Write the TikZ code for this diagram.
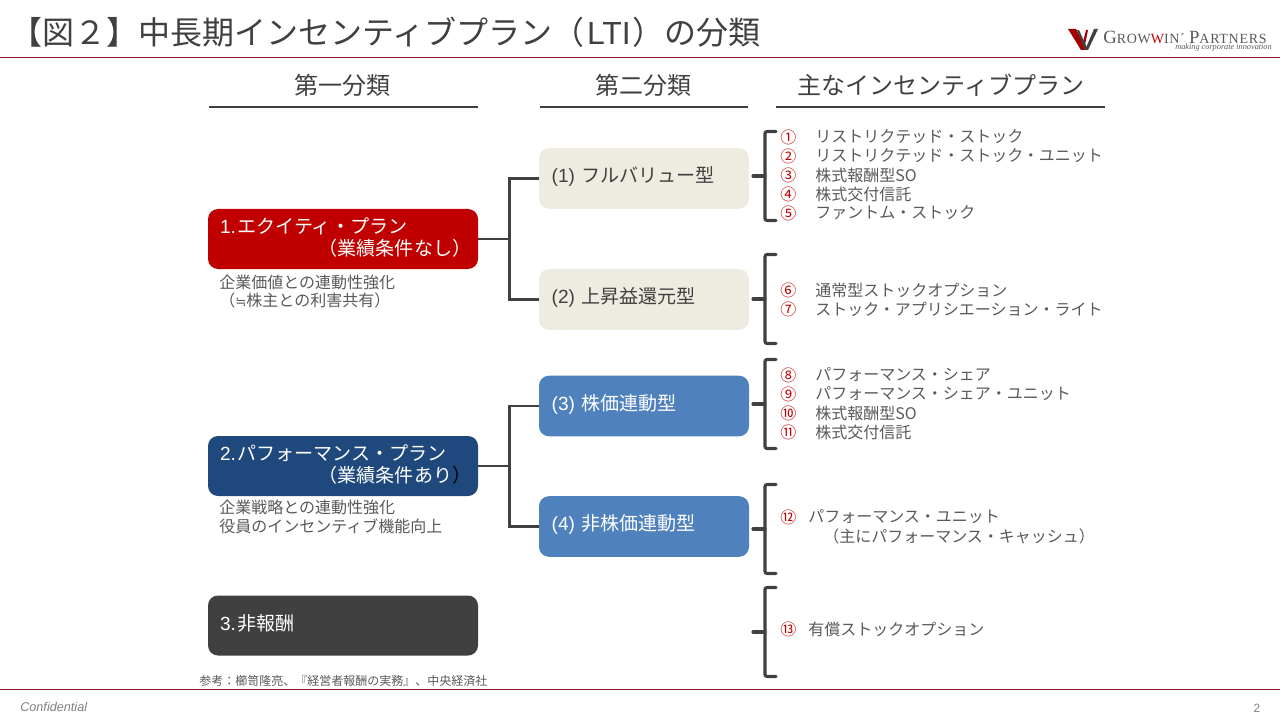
\documentclass[tikz,border=0pt]{standalone}
\usepackage{fontspec}
\setmainfont{Noto Sans CJK JP}
\newfontfamily\logofont{Liberation Serif}
\newfontfamily\latinfont{Liberation Sans}
\newfontfamily\symfont{DejaVu Sans}
\definecolor{DarkText}{HTML}{404040}
\definecolor{SoftText}{HTML}{595959}
\definecolor{RuleRed}{HTML}{8E1C1C}
\definecolor{EquityRed}{HTML}{C00000}
\definecolor{PerfNavy}{HTML}{1F497D}
\definecolor{StockBlue}{HTML}{4F81BD}
\definecolor{PaleBG}{HTML}{EEECE1}
\definecolor{NumRed}{HTML}{C00000}
\usetikzlibrary{calc,positioning}
\newcommand{\boxpad}{\endgraf\vspace*{3pt}}

\begin{document}
\begin{tikzpicture}[
  x=0.75pt,y=-0.75pt,
  planbox/.style={
    rounded corners=7.5pt,
    minimum height=45pt,inner xsep=9pt,inner ysep=0pt,
    text width=184.5pt,align=left,
    font=\fontsize{14.3}{16.5}\selectfont,text=white,
    execute at end node=\boxpad
  },
  typebox/.style={
    rounded corners=7.5pt,
    minimum height=45.5pt,inner xsep=9.5pt,inner ysep=0pt,
    text width=138.5pt,align=left,
    font=\fontsize{14.3}{16.5}\selectfont,text=white,
    execute at end node=\boxpad
  },
  headtxt/.style={font=\fontsize{18}{20}\selectfont,text=DarkText,inner sep=0pt},
  headrule/.style={line width=2.2pt,DarkText},
  conn/.style={line width=2.2pt,DarkText},
  bkt/.style={line width=2.3pt,DarkText,line cap=round,rounded corners=1.5pt},
  numtxt/.style={anchor=west,inner sep=0pt,font=\fontsize{12}{14}\selectfont,text=NumRed},
  itemtxt/.style={anchor=west,inner sep=0pt,font=\fontsize{12}{14}\selectfont,text=SoftText},
  notetxt/.style={anchor=west,inner sep=0pt,font=\fontsize{12}{14}\selectfont,text=SoftText}
]
  \useasboundingbox (0,0) rectangle (1280,720);

  % title and rules
  \node[anchor=west,inner sep=0pt,font=\fontsize{24}{28}\selectfont,text=DarkText] (title) at (10,32)
    {【図２】中長期インセンティブプラン（\hspace{2pt}{\latinfont LTI}\hspace{1pt}）の分類};
  \coordinate (topl) at (0,57);
  \coordinate (topr) at (1280,57);
  \coordinate (botl) at (0,689);
  \coordinate (botr) at (1280,689);
  \draw[RuleRed,line width=0.7pt] (topl) -- (topr);
  \draw[RuleRed,line width=0.7pt] (botl) -- (botr);

  % logo
  \fill[EquityRed!85!black] (1068,29) -- (1076,29) -- (1087,50) -- (1081,50) -- cycle;
  \fill[EquityRed!85!black] (1081,50) -- (1086,30) -- (1088,30) -- (1084,50) -- cycle;
  \fill[DarkText] (1077,30) -- (1079,30) -- (1088,50) -- (1085,50) -- cycle;
  \fill[DarkText] (1085,50) -- (1094,29) -- (1098,29) -- (1088,50) -- cycle;
  \node[anchor=base west,inner sep=0pt,text=SoftText,font=\logofont\fontsize{10.5}{12}\selectfont\addfontfeature{LetterSpace=5}] (logo) at (1103,43.5)
    {{\fontsize{14}{12}\selectfont G}ROW{\color{EquityRed}W}IN\textasciiacute\ {\fontsize{14}{12}\selectfont P}ARTNERS};
  \node[anchor=east,inner sep=0pt,text=SoftText,font=\logofont\itshape\fontsize{6.2}{8}\selectfont] (slogan) at (1272,48)
    {making corporate innovation};

  % column heads
  \node[headtxt] (head1) at (342,85) {第一分類};
  \node[headtxt] (head2) at (643,85) {第二分類};
  \node[headtxt] (head3) at (941,85) {主なインセンティブプラン};
  \draw[headrule] (209,107) -- (478,107);
  \draw[headrule] (540,107) -- (748,107);
  \draw[headrule] (776,107) -- (1105,107);

  % first level
  \node[planbox,fill=EquityRed] (equity) at (343,239)
    {{\latinfont 1.}\hspace{1pt}エクイティ・プラン\\\hspace*{74pt}（業績条件なし）};
  \node[planbox,fill=PerfNavy] (perf) at (343,466)
    {{\latinfont 2.}\hspace{1pt}パフォーマンス・プラン\\\hspace*{74pt}（業績条件あり\textcolor{black}{）}};
  \node[planbox,fill=DarkText] (nonpay) at (343,625.5) {{\latinfont 3.}\hspace{1pt}非報酬};

  % second level
  \node[typebox,fill=PaleBG,text=DarkText] (full) at (644,178.5) {{\latinfont (1)} フルバリュー型};
  \node[typebox,fill=PaleBG,text=DarkText] (gain) at (644,299.5) {{\latinfont (2)} 上昇益還元型};
  \node[typebox,fill=StockBlue] (linked) at (644,406) {{\latinfont (3)} 株価連動型};
  \node[typebox,fill=StockBlue] (unlinked) at (644,526.5) {{\latinfont (4)} 非株価連動型};

  \draw[conn] (equity.east) -- ++(31,0) coordinate (jointA);
  \draw[conn] (full.west) -| (jointA);
  \draw[conn] (gain.west) -| (jointA);
  \draw[conn] (perf.east) -- ++(31,0) coordinate (jointB);
  \draw[conn] (linked.west) -| (jointB);
  \draw[conn] (unlinked.west) -| (jointB);

  % brackets
  \foreach \n/\y in {a/176,b/299,c/404,d/529,e/632}{
    \coordinate (bkt\n) at (765,\y);
    \draw[bkt] ($(bkt\n)+(11,-44.5)$) -- ++(-11,0) -- ++(0,89) -- ++(11,0);
    \draw[bkt] (bkt\n) -- ++(-12,0);
  }

  % notes under the plans
  \node[notetxt] (noteA) at (219,282) {企業価値との連動性強化};
  \node[notetxt] (noteB) at (219,300) {（{\symfont\fontsize{10}{14}\selectfont ≒}株主との利害共有）};
  \node[notetxt] (noteC) at (219,507) {企業戦略との連動性強化};
  \node[notetxt] (noteD) at (219,526) {役員のインセンティブ機能向上};

  % plan list
  \foreach \k/\y/\num/\txt in {
    1/137/①/リストリクテッド・ストック,
    2/156/②/リストリクテッド・ストック・ユニット,
    3/175/③/株式報酬型SO,
    4/194/④/株式交付信託,
    5/213/⑤/ファントム・ストック,
    6/290/⑥/通常型ストックオプション,
    7/309/⑦/ストック・アプリシエーション・ライト,
    8/375/⑧/パフォーマンス・シェア,
    9/394/⑨/パフォーマンス・シェア・ユニット,
    10/413/⑩/株式報酬型SO,
    11/432/⑪/株式交付信託}{
    \node[numtxt] (num\k) at (780,\y) {\num};
    \node[itemtxt] (item\k) at (815,\y) {\txt};
  }
  \node[numtxt] (num12) at (780,517) {⑫};
  \node[itemtxt] (item12) at (808,517) {パフォーマンス・ユニット};
  \node[itemtxt] (item12b) at (823,536) {（主にパフォーマンス・キャッシュ）};
  \node[numtxt] (num13) at (780,629) {⑬};
  \node[itemtxt] (item13) at (808,629) {有償ストックオプション};

  % source and footer
  \node[anchor=west,inner sep=0pt,font=\fontsize{9}{10}\selectfont,text=SoftText] (source) at (199,681)
    {参考：櫛笥隆亮、『経営者報酬の実務』、中央経済社};
  \node[anchor=west,inner sep=0pt,font=\latinfont\itshape\fontsize{9.5}{10}\selectfont,text=gray] (conf) at (20,707) {Confidential};
  \node[inner sep=0pt,font=\latinfont\fontsize{9}{10}\selectfont,text=gray] (pageno) at (1257,708) {2};
\end{tikzpicture}
\end{document}
